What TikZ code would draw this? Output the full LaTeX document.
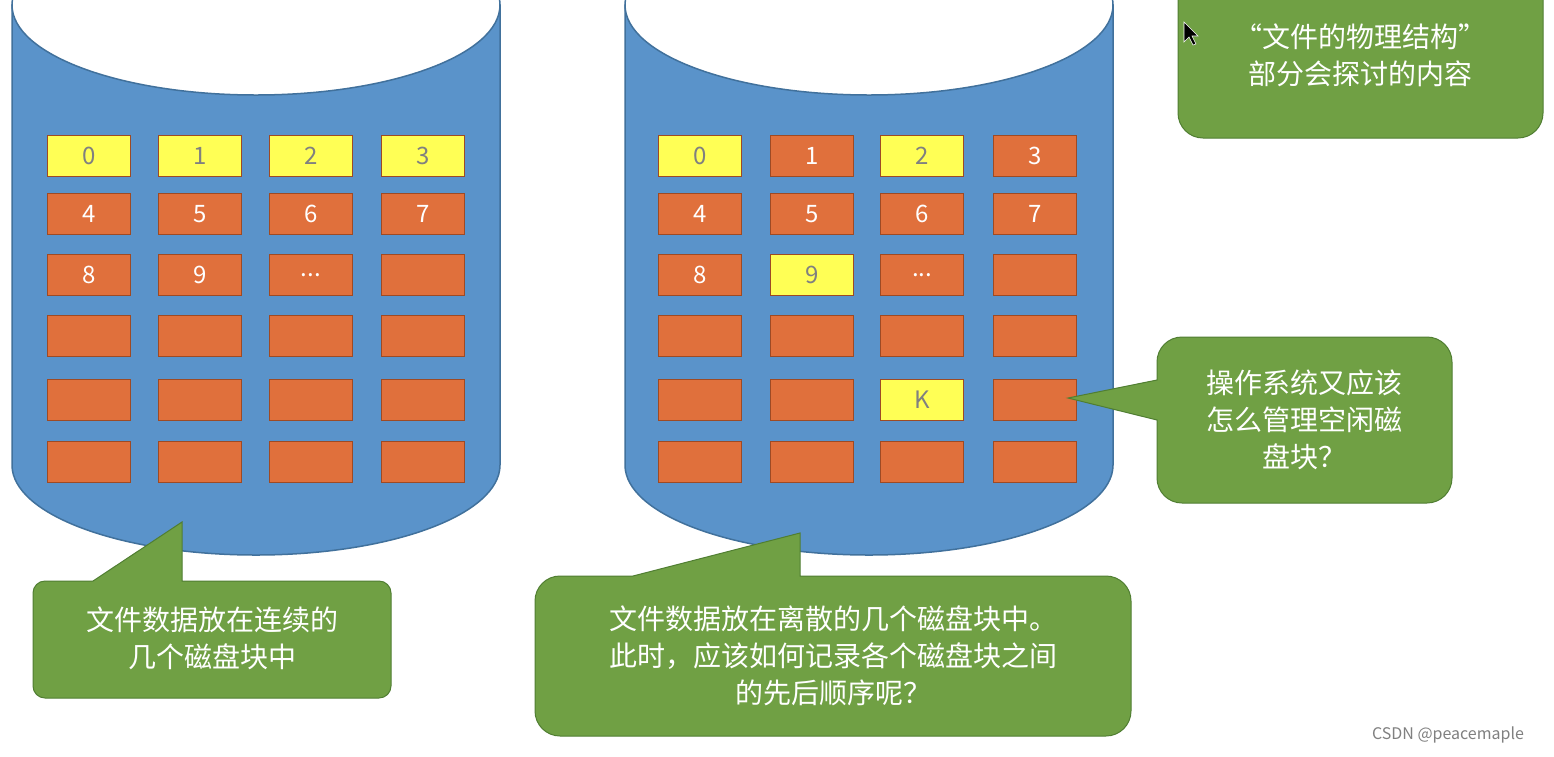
\documentclass[tikz,border=0pt]{standalone}
\usepackage{fontspec}
\setmainfont{Noto Sans CJK SC}
\begin{document}
\begin{tikzpicture}[x=1pt,y=1pt,
  cyl/.style={fill=cylblue,draw=cyledge,line width=1.5pt},
  blk/.style={draw=blkedge,line width=0.8pt,minimum width=83pt,minimum height=41pt,inner sep=0pt,font=\fontsize{24}{24}\selectfont},
  yb/.style={blk,fill=yel,text=gray},
  ob/.style={blk,fill=ora,text=white},
  call/.style={fill=grn,draw=grnedge,line width=1pt},
  ctext/.style={align=center,text=white,font=\fontsize{28}{37}\selectfont}]
\definecolor{cylblue}{HTML}{5A93CA}
\definecolor{cyledge}{HTML}{41719C}
\definecolor{yel}{HTML}{FFFF55}
\definecolor{ora}{HTML}{E0703C}
\definecolor{blkedge}{HTML}{9E4A24}
\definecolor{grn}{HTML}{70A044}
\definecolor{grnedge}{HTML}{507E32}
\useasboundingbox (0,0) rectangle (1554,-756);
\fill[white] (0,0) rectangle (1554,-756);
% cylinders
\foreach \cx in {256,869}{
  \path[cyl] (\cx-244,-5) -- (\cx-244,-465) arc[start angle=180,end angle=360,x radius=244,y radius=90] -- (\cx+244,-5) -- cycle;
  \path[fill=white,draw=cyledge,line width=1.5pt] (\cx,-5) ellipse[x radius=244,y radius=90];
}
% blocks
\def\rows{{-156,-214,-275,-336,-400,-462}}
\foreach \r/\y in {1/-156,2/-214,3/-275,4/-336,5/-400,6/-462}{
  \foreach \c/\x in {1/89,2/200,3/311,4/423}{
    \node[ob] (L\r\c) at (\x,\y) {};
  }
  \foreach \c/\x in {1/700,2/812,3/922,4/1035}{
    \node[ob] (R\r\c) at (\x,\y) {};
  }
}
% left labels
\foreach \c/\x/\t in {1/89/0,2/200/1,3/311/2,4/423/3}{\node[yb] (LY\c) at (\x,-156) {\t};}
\foreach \c/\x/\t in {1/89/4,2/200/5,3/311/6,4/423/7}{\node[ob] (LO\c) at (\x,-214) {\t};}
\node[ob] (L8) at (89,-275) {8};
\node[ob] (L9) at (200,-275) {9};
\node[ob] (Ld) at (311,-275) {...};
% right labels
\node[yb] (R0) at (700,-156) {0};
\node[ob] (R1) at (812,-156) {1};
\node[yb] (R2) at (922,-156) {2};
\node[ob] (R3) at (1035,-156) {3};
\foreach \c/\x/\t in {1/700/4,2/812/5,3/922/6,4/1035/7}{\node[ob] (RO\c) at (\x,-214) {\t};}
\node[ob] (R8) at (700,-275) {8};
\node[yb] (R9) at (812,-275) {9};
\node[ob] (Rd) at (922,-275) {...};
\node[yb] (RK) at (922,-400) {K};
% callouts
\path[call] (45,-581) -- (93,-581) -- (182,-522) -- (182,-581) -- (379,-581) arc[start angle=90,end angle=0,radius=12] -- (391,-686) arc[start angle=0,end angle=-90,radius=12] -- (45,-698) arc[start angle=270,end angle=180,radius=12] -- (33,-593) arc[start angle=180,end angle=90,radius=12] -- cycle;
\node[ctext] (c1) at (212,-638) {文件数据放在连续的\\几个磁盘块中};
\path[call] (560,-576) -- (633,-576) -- (800,-533) -- (800,-576) -- (1106,-576) arc[start angle=90,end angle=0,radius=25] -- (1131,-711) arc[start angle=0,end angle=-90,radius=25] -- (560,-736) arc[start angle=270,end angle=180,radius=25] -- (535,-601) arc[start angle=180,end angle=90,radius=25] -- cycle;
\node[ctext] (c2) at (833,-656) {文件数据放在离散的几个磁盘块中。\\此时，应该如何记录各个磁盘块之间\\的先后顺序呢？};
\path[call] (1182,-337) -- (1427,-337) arc[start angle=90,end angle=0,radius=25] -- (1452,-478) arc[start angle=0,end angle=-90,radius=25] -- (1182,-503) arc[start angle=270,end angle=180,radius=25] -- (1157,-420) -- (1068,-398) -- (1157,-380) -- (1157,-362) arc[start angle=180,end angle=90,radius=25] -- cycle;
\node[ctext] (c3) at (1304,-420) {操作系统又应该\\怎么管理空闲磁\\盘块？};
\path[call] (1178,10) -- (1178,-113) arc[start angle=180,end angle=270,radius=25] -- (1518,-138) arc[start angle=-90,end angle=0,radius=25] -- (1543,10) -- cycle;
\node[ctext] (c4) at (1360,-55) {“文件的物理结构”\\部分会探讨的内容};
% cursor
\path[fill=black,draw=white,line width=0.6pt] (1184,-22) -- (1184,-42) -- (1189,-37) -- (1193,-45) -- (1196,-44) -- (1192,-36) -- (1198,-36) -- cycle;
\node[text=gray,font=\fontsize{16}{16}\selectfont] (wm) at (1448,-735) {CSDN @peacemaple};
\end{tikzpicture}
\end{document}
